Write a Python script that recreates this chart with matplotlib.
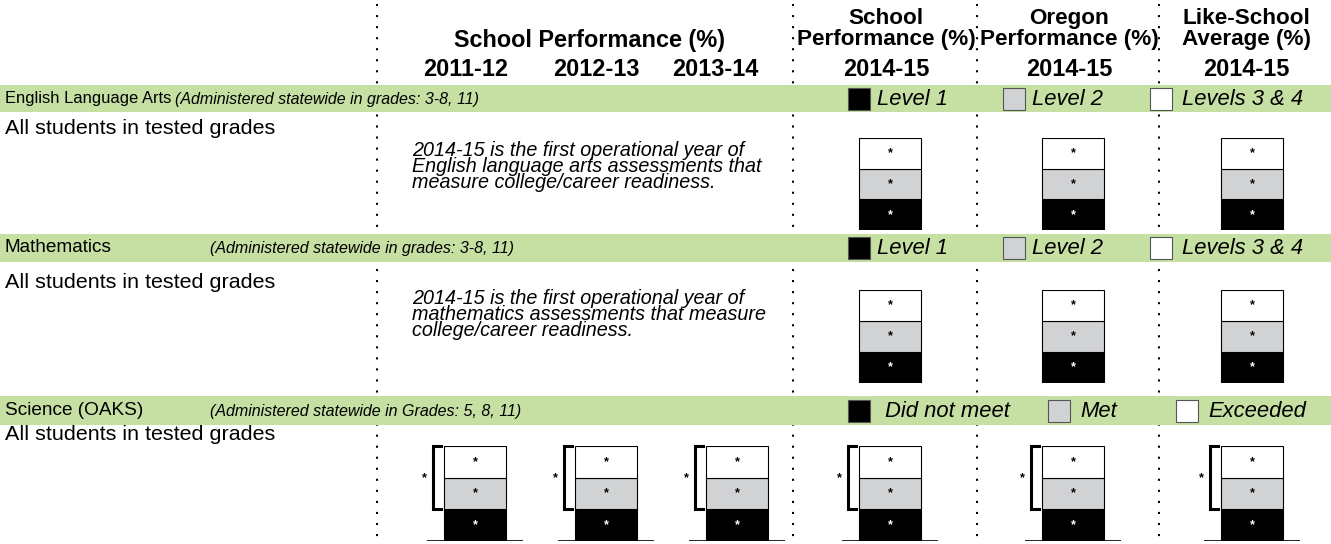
import matplotlib
matplotlib.use('Agg')
import matplotlib.pyplot as plt

W, H = 1331, 544
plt.rcParams['font.family'] = ['Liberation Sans', 'DejaVu Sans']

# --- DATA ---
hist_years = ['2011-12', '2012-13', '2013-14']
year_2015 = '2014-15'
hist_title = 'School Performance (%)'
cols_2015 = ['School\nPerformance (%)', 'Oregon\nPerformance (%)', 'Like-School\nAverage (%)']
subjects = ['English Language Arts', 'Mathematics', 'Science (OAKS)']
subject_notes = ['(Administered statewide in grades: 3-8, 11)',
                 '(Administered statewide in grades: 3-8, 11)',
                 '(Administered statewide in Grades: 5, 8, 11)']
levels_sb = ['Level 1', 'Level 2', 'Levels 3 & 4']
levels_sci = ['Did not meet', 'Met', 'Exceeded']
row_label = 'All students in tested grades'
ela_note = ('2014-15 is the first operational year of\n'
            'English language arts assessments that\n'
            'measure college/career readiness.')
math_note = ('2014-15 is the first operational year of\n'
             'mathematics assessments that measure\n'
             'college/career readiness.')

# suppressed results ('*'), bars drawn as equal thirds (bottom -> top)
ela_values = [[33.3, 33.3, 33.4], [33.3, 33.3, 33.4], [33.3, 33.3, 33.4]]
math_values = [[33.3, 33.3, 33.4], [33.3, 33.3, 33.4], [33.3, 33.3, 33.4]]
sci_values = [[33.3, 33.3, 33.4]] * 6
seg_labels = ['*', '*', '*']
sci_meet_labels = ['*'] * 6

# --- STYLE ---
GREEN = '#C6E0A4'
SEG_COLORS = ['#000000', '#D1D2D4', '#FFFFFF']
STAR_COLORS = ['white', 'black', 'black']

fig = plt.figure(figsize=(W / 100, H / 100), dpi=100)
ax = fig.add_axes([0, 0, 1, 1])
ax.set_xlim(0, W)
ax.set_ylim(H, 0)
ax.axis('off')

def px(v):
    # font size given in pixels -> points
    return v / 100 * 72

# dotted column separators
for x in [377, 793, 977, 1159]:
    ax.plot([x, x], [4, H], color='black', lw=1.5, ls=(0, (1, 4.3)), zorder=1)

# header
ax.text(590, 40, hist_title, ha='center', va='center', fontsize=px(23.5),
        fontweight='bold')
for x, yr in zip([466, 596, 715], hist_years):
    ax.text(x, 69, yr, ha='center', va='center', fontsize=px(23.5), fontweight='bold')
for x, title in zip([886, 1069, 1246], cols_2015):
    ax.text(x, 29, title, ha='center', va='center', fontsize=px(22.5),
            fontweight='bold', linespacing=0.95)
    ax.text(x, 69, year_2015, ha='center', va='center', fontsize=px(23.5),
            fontweight='bold')

bands = [(85, 112), (234, 262), (396, 425)]
name_sizes = [16.5, 19, 19]
note_x = [175, 210, 210]
for (y0, y1), subj, note, fs, nx in zip(bands, subjects, subject_notes, name_sizes, note_x):
    ax.axhspan(y0, y1, color=GREEN, zorder=2, lw=0)
    yc = (y0 + y1) / 2
    ax.text(5, yc, subj, ha='left', va='center', fontsize=px(fs), zorder=3)
    ax.text(nx, yc + 1, note, ha='left', va='center', fontsize=px(16),
            style='italic', zorder=3)

# legends inside bands
def legend_row(yc, names, sq_x, txt_x):
    for name, c, sx, tx in zip(names, SEG_COLORS, sq_x, txt_x):
        ax.add_patch(plt.Rectangle((sx, yc - 11), 22, 22, facecolor=c,
                                   edgecolor='#555555', lw=0.8, zorder=3))
        ax.text(tx, yc + 1, name, ha='left', va='center', fontsize=px(22),
                style='italic', zorder=3)

legend_row(98.5, levels_sb, [848, 1003, 1150], [877, 1032, 1182])
legend_row(248, levels_sb, [848, 1003, 1150], [877, 1032, 1182])
legend_row(410.5, levels_sci, [848, 1048, 1176], [885, 1080, 1208])

# row labels and notes
for y in [128, 282, 435]:
    ax.text(5, y, row_label, ha='left', va='center', fontsize=px(21.5))
ax.text(412, 166, ela_note, ha='left', va='center', fontsize=px(19.8),
        style='italic', linespacing=0.8)
ax.text(412, 314, math_note, ha='left', va='center', fontsize=px(19.8),
        style='italic', linespacing=0.8)

# stacked bars
BW, PAD = 62, 17

def stacked_bar(cx, top, bottom, values, labels, baseline=False, bracket=None):
    aw = BW + 2 * PAD
    axb = fig.add_axes([(cx - aw / 2) / W, 1 - bottom / H, aw / W, (bottom - top) / H])
    axb.set_xlim(-0.5, 0.5)
    axb.set_ylim(0, sum(values))
    axb.axis('off')
    width = BW / aw
    cum = 0
    for v, lab, fc, tc in zip(values, labels, SEG_COLORS, STAR_COLORS):
        axb.bar(0, v, bottom=cum, width=width, color=fc, edgecolor='black', lw=0.8)
        axb.text(0, cum + v / 2, lab, ha='center', va='center', color=tc,
                 fontsize=9, fontweight='bold')
        cum += v
    if baseline:
        axb.axhline(0, color='black', lw=1.2)
    if bracket is not None:
        bx = -width / 2 - 11 / aw
        tick = 8 / aw
        axb.plot([bx + tick, bx, bx, bx + tick], [cum, cum, values[0], values[0]],
                 color='black', lw=2.2, clip_on=False, solid_joinstyle='miter')
        axb.text(bx - 9 / aw, (cum + values[0]) / 2, bracket, ha='center',
                 va='center', fontsize=9, fontweight='bold', clip_on=False)

cx_2015 = [890, 1073, 1252]
cx_hist = [475, 606, 737]
for cx, vals in zip(cx_2015, ela_values):
    stacked_bar(cx, 138, 230, vals, seg_labels)
for cx, vals in zip(cx_2015, math_values):
    stacked_bar(cx, 290, 383, vals, seg_labels)
for cx, vals, lab in zip(cx_hist + cx_2015, sci_values, sci_meet_labels):
    stacked_bar(cx, 446, 541, vals, seg_labels, baseline=True, bracket=lab)

fig.savefig('out.png', dpi=100)
